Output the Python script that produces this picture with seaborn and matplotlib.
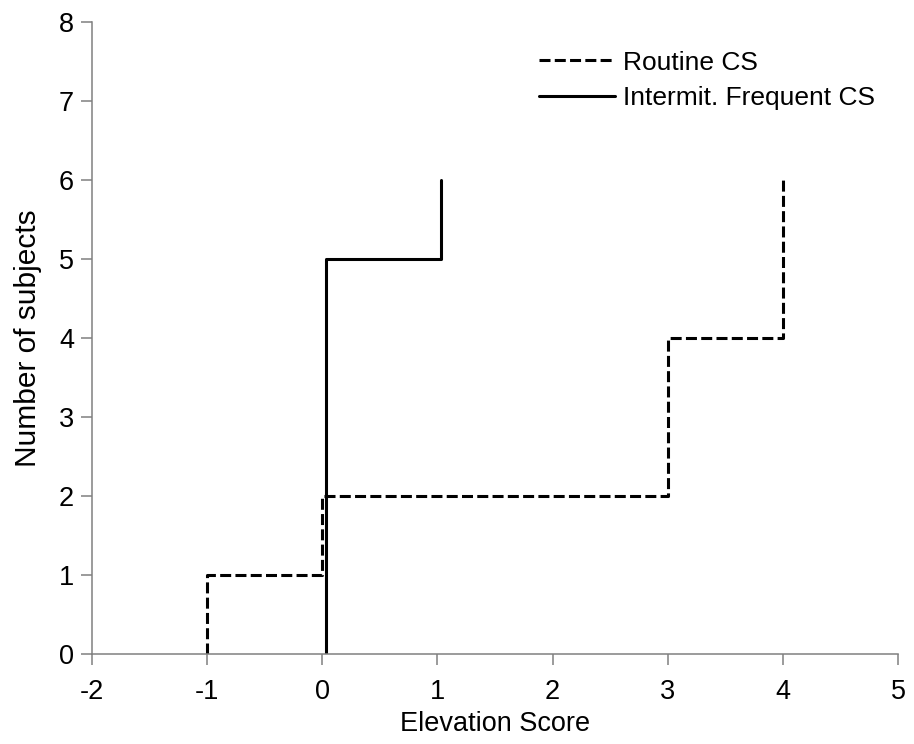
import matplotlib
matplotlib.use('Agg')
import matplotlib.pyplot as plt
import seaborn as sns
import pandas as pd

# step corners of the two cumulative curves
routine_score = [-1, -1, 0, 0, 3, 3, 4, 4]
routine_n = [0, 1, 1, 2, 2, 4, 4, 6]
intermit_score = [0.03, 0.03, 1.03, 1.03]
intermit_n = [0, 5, 5, 6]

x_ticks = [-2, -1, 0, 1, 2, 3, 4, 5]
y_ticks = [0, 1, 2, 3, 4, 5, 6, 7, 8]


def make_plot():
    sns.set_style('white')
    plt.rcParams['font.family'] = ['Liberation Sans', 'DejaVu Sans']
    plt.rcParams['axes.unicode_minus'] = False
    plt.rcParams['text.color'] = 'black'
    plt.rcParams['axes.labelcolor'] = 'black'
    plt.rcParams['xtick.labelcolor'] = 'black'
    plt.rcParams['ytick.labelcolor'] = 'black'

    fig = plt.figure(figsize=(9.14, 7.44), dpi=100)
    ax = fig.add_axes([0.1007, 0.121, 0.8818, 0.849])

    df_r = pd.DataFrame({'score': routine_score, 'n': routine_n})
    df_i = pd.DataFrame({'score': intermit_score, 'n': intermit_n})

    sns.lineplot(data=df_r, x='score', y='n', sort=False, estimator=None, ax=ax,
                 color='black', linewidth=2.2, linestyle=(0, (3.6, 1.4)),
                 label='Routine CS')
    sns.lineplot(data=df_i, x='score', y='n', sort=False, estimator=None, ax=ax,
                 color='black', linewidth=2.2, label='Intermit. Frequent CS')

    ax.set_xlim(-2, 5)
    ax.set_ylim(0, 8)
    ax.set_xticks(x_ticks)
    ax.set_yticks(y_ticks)
    ax.set_xlabel('Elevation Score', fontsize=19.5, labelpad=4)
    ax.set_ylabel('Number of subjects', fontsize=21.5, labelpad=12)

    for side in ['top', 'right']:
        ax.spines[side].set_visible(False)
    for side in ['left', 'bottom']:
        ax.spines[side].set_color('#808080')
        ax.spines[side].set_linewidth(1.1)
    ax.tick_params(axis='both', direction='out', length=8, width=1.1,
                   color='#808080', labelcolor='black', labelsize=19.5,
                   left=True, bottom=True)
    ax.tick_params(axis='x', pad=10)
    ax.tick_params(axis='y', pad=5)

    ax.legend(loc='upper right', frameon=False, fontsize=19, handlelength=2.9,
              handletextpad=0.3, labelspacing=0.45, borderaxespad=0,
              bbox_to_anchor=(0.985, 0.972))

    fig.savefig('out.png', dpi=100)


if __name__ == "__main__":
    make_plot()
